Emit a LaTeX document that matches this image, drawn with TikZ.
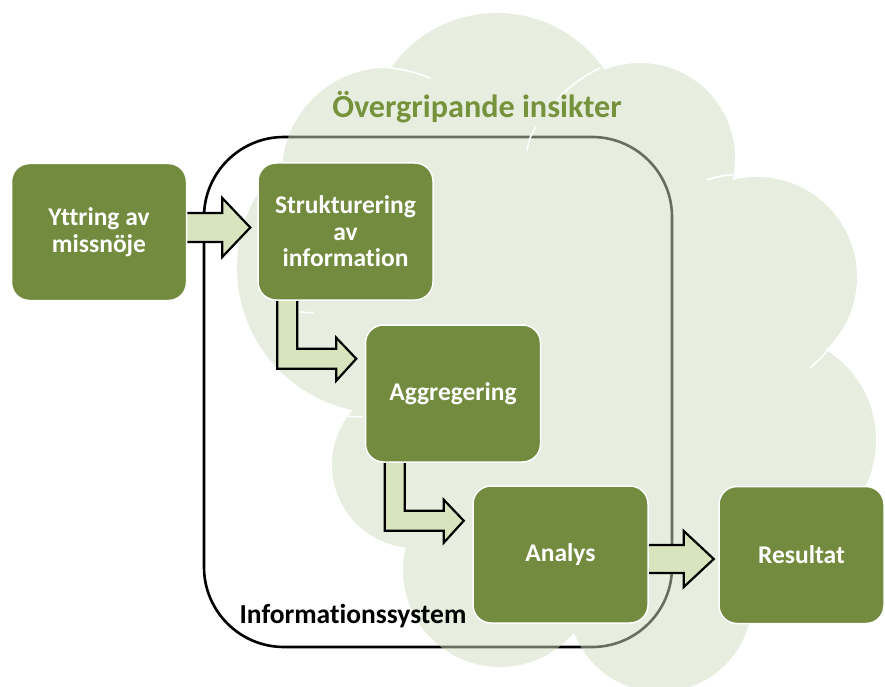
\documentclass[tikz,border=0pt]{standalone}
\usepackage{fontspec}
\setmainfont{Carlito}[Ligatures={NoCommon}]
\usetikzlibrary{calc}
\definecolor{boxgreen}{RGB}{114,139,62}
\definecolor{arrowfill}{RGB}{215,228,189}
\definecolor{cloudfill}{RGB}{209,221,191}
\definecolor{titlegreen}{RGB}{118,146,60}
\pgfdeclarelayer{bg}
\pgfdeclarelayer{arrowlayer}
\pgfsetlayers{bg,arrowlayer,main}

\begin{document}
\begin{tikzpicture}[x=1pt,y=-1pt,
  stepbox/.style={draw=white, line width=1.5pt, fill=boxgreen, rounded corners=18pt,
    minimum width=175pt, minimum height=137pt, inner sep=0pt, align=center,
    text=white, font=\bfseries\fontsize{25.5}{26.5}\selectfont},
  blockarrow/.style={draw=black, line width=2.2pt, fill=arrowfill, line join=miter},
  frame/.style={draw=black, line width=2.6pt, rounded corners=80pt},
  puff/.style={draw=white, line width=1.6pt, line cap=round}
]
\useasboundingbox (0,0) rectangle (885,687);
\clip (0,0) rectangle (885,687);

% process steps
\node[stepbox] (yttring)   at (99,232)    {Yttring av\\missnöje};
\node[stepbox] (strukt)    at (345.5,231.5) {Strukturering\\av\\information};
\node[stepbox] (aggr)      at (453,393.5) {Aggregering};
\node[stepbox] (analys)    at (560.5,554.5) {Analys};
\node[stepbox, minimum width=165pt] (resultat) at (801.5,555) {Resultat};

\begin{pgfonlayer}{bg}
  % information system frame
  \draw[frame] (204,137) rectangle (672,647);
  % cloud of overarching insights, built from overlapping puffs
  \fill[cloudfill, fill opacity=0.5]
    (382,268) circle[radius=145]
    (387,173) circle[radius=105]
    (497,143) circle[radius=130]
    (640,158) circle[radius=95]
    (757,277) circle[radius=100]
    (770,440) circle[radius=106]
    (660,600) circle[radius=92]
    (500,570) circle[radius=97]
    (415,465) circle[radius=83]
    (580,380) circle[radius=200];
  % inner puff seams
  \draw[puff] (360,68) .. controls (383,65) and (408,69) .. (430,78);
  \draw[puff] (600,68) .. controls (585,75) and (568,87) .. (557,100);
  \draw[puff] (536,127) .. controls (531,134) and (528,142) .. (527,150);
  \draw[puff] (707,180) .. controls (715,177) and (724,175) .. (732,175);
  \draw[puff] (810,368) .. controls (816,363) and (823,356) .. (828,350);
  \draw[puff] (300,312) -- (313,313);
  \draw[puff] (338,416) -- (362,417);
\end{pgfonlayer}

\begin{pgfonlayer}{arrowlayer}
  % straight block arrows
  \draw[blockarrow] ($(yttring.east)+(-3,-19)$) -- ++(38,0) -- ++(0,-15)
    -- ++(28,29.5) -- ++(-28,29.5) -- ++(0,-15) -- ++(-38,0) -- cycle;
  \draw[blockarrow] ($(analys.east)+(-4,-9.5)$) -- ++(39,0) -- ++(0,-14)
    -- ++(30,28) -- ++(-30,28) -- ++(0,-14) -- ++(-39,0) -- cycle;
  % bent block arrows
  \draw[blockarrow] ($(strukt.south west)+(20,-5)$) -- ++(0,73) -- ++(59,0)
    -- ++(0,12) -- ++(20,-22) -- ++(-20,-21) -- ++(0,11) -- ++(-39,0)
    -- ++(0,-53) -- cycle;
  \draw[blockarrow] ($(aggr.south west)+(20,-5)$) -- ++(0,73) -- ++(59,0)
    -- ++(0,12) -- ++(20,-22) -- ++(-20,-21) -- ++(0,11) -- ++(-39,0)
    -- ++(0,-53) -- cycle;
\end{pgfonlayer}

% labels
\node[anchor=base, text=titlegreen, font=\bfseries\fontsize{32.2}{36}\selectfont]
  (title) at (477,118) {Övergripande insikter};
\node[anchor=base west, font=\bfseries\fontsize{27.5}{30}\selectfont]
  (infolabel) at (236,623) {Informationssystem};
\end{tikzpicture}
\end{document}
